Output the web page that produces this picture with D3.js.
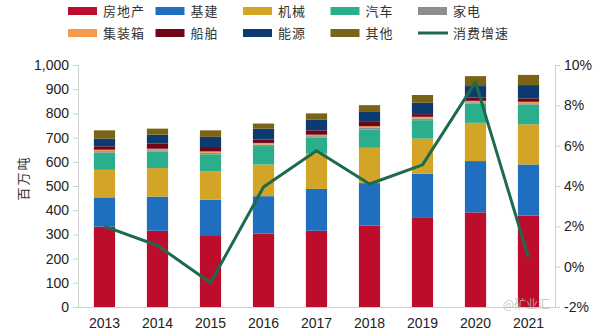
<!DOCTYPE html>
<html>
<head>
<meta charset="utf-8">
<script src="https://cdn.jsdelivr.net/npm/d3@7"></script>
<style>
  html, body { margin: 0; padding: 0; background: #fff; }
  svg { display: block; }
</style>
</head>
<body>
<svg id="chart" width="600" height="331"></svg>
<script>
// Years on the x axis
const years = ["2013", "2014", "2015", "2016", "2017", "2018", "2019", "2020", "2021"];

// Steel demand by sector, million tonnes (stacked bottom to top)
const realEstate     = [332, 315, 297, 304, 315, 336, 371, 391, 378]; // 房地产
const infrastructure = [121, 141, 146, 154, 173, 176, 180, 212, 211]; // 基建
const machinery      = [114, 118, 117, 131, 146, 146, 145, 158, 166]; // 机械
const automobile     = [ 71,  69,  71,  76,  66,  76,  76,  80,  82]; // 汽车
const appliances     = [  6,   5,   6,   6,   6,   6,   7,   5,   5]; // 家电
const containers     = [  6,   6,   6,   7,   6,   7,   7,   6,   6]; // 集装箱
const shipbuilding   = [ 14,  21,  18,  14,  18,  18,  11,  14,  14]; // 船舶
const energy         = [ 32,  37,  42,  45,  45,  41,  47,  47,  55]; // 能源
const others         = [ 34,  25,  27,  21,  25,  28,  32,  41,  42]; // 其他

// Consumption growth rate, %
const growth = [2.0, 1.05, -0.8, 3.95, 5.75, 4.1, 5.05, 9.15, 0.45]; // 消费增速

// Axis ticks
const leftTicks  = [0, 100, 200, 300, 400, 500, 600, 700, 800, 900, 1000];
const rightTicks = [-2, 0, 2, 4, 6, 8, 10];

const seriesNames  = ["房地产", "基建", "机械", "汽车", "家电", "集装箱", "船舶", "能源", "其他"];
const seriesValues = [realEstate, infrastructure, machinery, automobile, appliances, containers, shipbuilding, energy, others];
const seriesColors = ["#BC0D2C", "#1F6EC0", "#D3A526", "#2AAE8C", "#8E8E8E", "#F7994A", "#6E0617", "#0D3B70", "#7A6316"];
const lineName = "消费增速";
const lineColor = "#1D6A4E";

const svg = d3.select("#chart");
const plot = { left: 78, right: 555, top: 65, bottom: 307 };

const x = d3.scaleBand().domain(years).range([plot.left, plot.right]).paddingInner(0.6).paddingOuter(0.3);
const yL = d3.scaleLinear().domain([0, 1000]).range([plot.bottom, plot.top]);
const yR = d3.scaleLinear().domain([-2, 10]).range([plot.bottom, plot.top]);

// Build stack table
const table = years.map((yr, i) => {
  const row = { year: yr };
  seriesNames.forEach((n, k) => { row[n] = seriesValues[k][i]; });
  return row;
});
const stacked = d3.stack().keys(seriesNames)(table);

const fontNum = "'Liberation Sans', Arial, sans-serif";
const fontCJK = "'Noto Sans CJK SC', sans-serif";

// Bars
svg.append("g").selectAll("g")
  .data(stacked)
  .join("g")
  .attr("fill", (d, i) => seriesColors[i])
  .selectAll("rect")
  .data(d => d)
  .join("rect")
  .attr("x", d => x(d.data.year))
  .attr("width", x.bandwidth())
  .attr("y", d => yL(d[1]))
  .attr("height", d => yL(d[0]) - yL(d[1]));

// Left axis
const axL = svg.append("g")
  .attr("transform", `translate(${plot.left},0)`)
  .call(d3.axisLeft(yL).tickValues(leftTicks).tickSize(5).tickPadding(4).tickFormat(d3.format(",")));
axL.select(".domain").attr("stroke", "#cfcfcf");
axL.selectAll(".tick line").attr("stroke", "#cfcfcf");
axL.selectAll("text").attr("font-family", fontNum).attr("font-size", 14).attr("fill", "#222");

// Right axis
const axR = svg.append("g")
  .attr("transform", `translate(${plot.right},0)`)
  .call(d3.axisRight(yR).tickValues(rightTicks).tickSize(5).tickPadding(4).tickFormat(d => d + "%"));
axR.select(".domain").attr("stroke", "#cfcfcf");
axR.selectAll(".tick line").attr("stroke", "#cfcfcf");
axR.selectAll("text").attr("font-family", fontNum).attr("font-size", 14).attr("fill", "#222");

// Bottom axis
const axB = svg.append("g")
  .attr("transform", `translate(0,${plot.bottom})`)
  .call(d3.axisBottom(x).tickSize(0).tickPadding(11));
axB.select(".domain").attr("stroke", "#cfcfcf");
axB.selectAll("text").attr("font-family", fontNum).attr("font-size", 14).attr("fill", "#222");

// Growth line
const line = d3.line()
  .x((d, i) => x(years[i]) + x.bandwidth() / 2)
  .y(d => yR(d));
svg.append("path")
  .datum(growth)
  .attr("d", line)
  .attr("fill", "none")
  .attr("stroke", lineColor)
  .attr("stroke-width", 3)
  .attr("stroke-linejoin", "round");

// Left axis title
svg.append("text")
  .attr("transform", "translate(28,178) rotate(-90)")
  .attr("text-anchor", "middle")
  .attr("font-family", fontCJK)
  .attr("font-size", 13)
  .attr("letter-spacing", 2)
  .attr("fill", "#333")
  .text("百万吨");

// Legend
const legendItems = seriesNames.map((n, i) => ({ name: n, color: seriesColors[i], type: "rect" }))
  .concat([{ name: lineName, color: lineColor, type: "line" }]);
const legend = svg.append("g");
legendItems.forEach((it, i) => {
  const col = i % 5, row = Math.floor(i / 5);
  const gx = 68 + col * 87.5, gy = 11 + row * 22;
  const g = legend.append("g").attr("transform", `translate(${gx},${gy})`);
  if (it.type === "rect") {
    g.append("rect").attr("x", 0).attr("y", -4).attr("width", 29).attr("height", 8).attr("fill", it.color);
  } else {
    g.append("line").attr("x1", 0).attr("x2", 30).attr("y1", 0).attr("y2", 0)
      .attr("stroke", it.color).attr("stroke-width", 3);
  }
  g.append("text")
    .attr("x", 35).attr("y", 0).attr("dy", "0.35em")
    .attr("font-family", fontCJK).attr("font-size", 13).attr("letter-spacing", 1).attr("fill", "#333")
    .text(it.name);
});

// Source mark
svg.append("text")
  .attr("x", 550).attr("y", 309)
  .attr("text-anchor", "end")
  .attr("font-family", fontCJK).attr("font-size", 12)
  .attr("fill", "#bbb").attr("fill-opacity", 0.8)
  .text("@矿业汇");
</script>
</body>
</html>
